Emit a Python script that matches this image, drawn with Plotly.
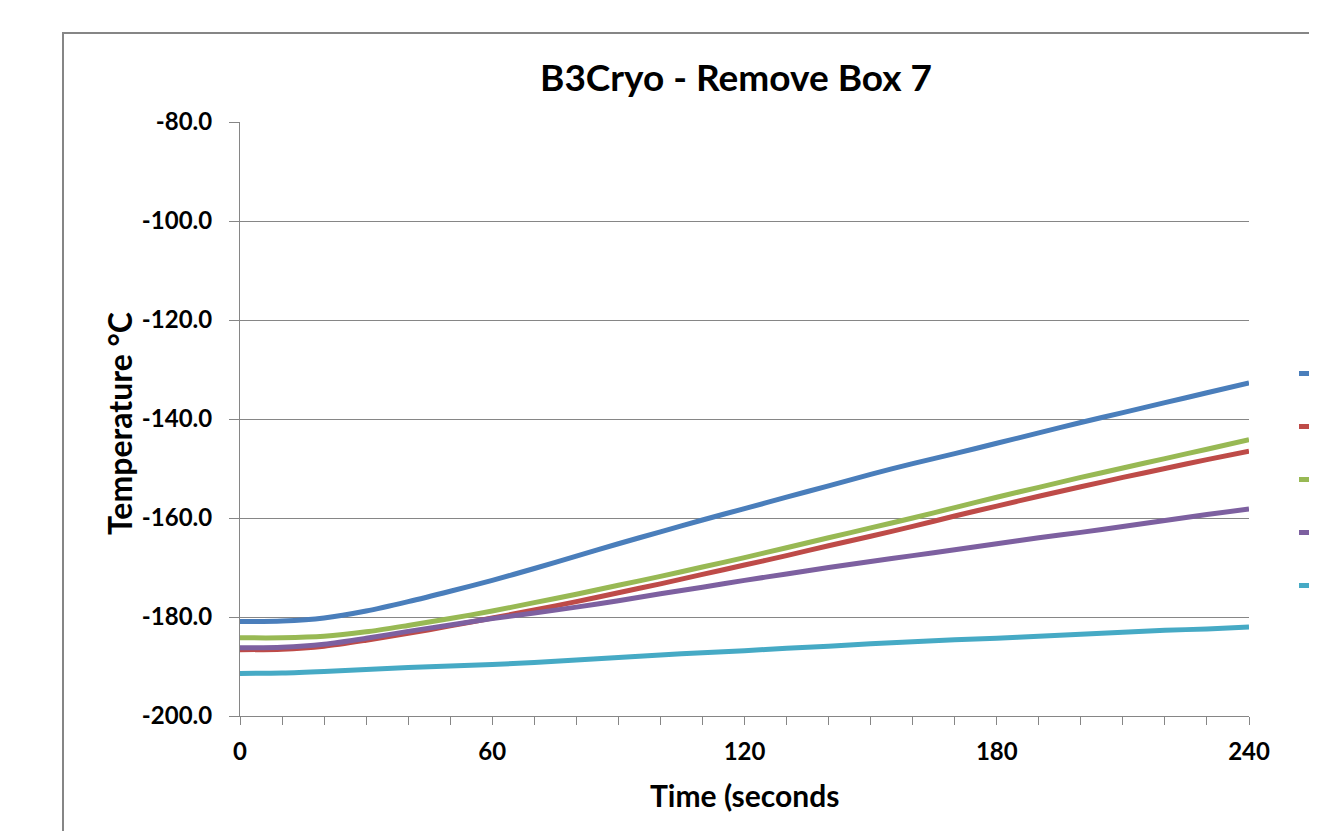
import plotly.graph_objects as go

# ---- data ----
time_s = [0, 10, 20, 30, 40, 50, 60, 70, 80, 90, 100, 110, 120,
          130, 140, 150, 160, 170, 180, 190, 200, 210, 220, 230, 240]

series_names = ["Sensor 1", "Sensor 2", "Sensor 3", "Sensor 4", "Sensor 5"]

sensor_1 = [-180.9, -180.8, -180.2, -178.8, -176.9, -174.8, -172.6, -170.2, -167.7,
            -165.2, -162.8, -160.4, -158.1, -155.8, -153.5, -151.2, -149.0, -147.0,
            -144.9, -142.8, -140.7, -138.7, -136.7, -134.7, -132.7]
sensor_2 = [-186.6, -186.5, -185.9, -184.7, -183.3, -181.8, -180.2, -178.6, -176.9,
            -175.1, -173.3, -171.4, -169.5, -167.6, -165.6, -163.7, -161.7, -159.6,
            -157.6, -155.6, -153.7, -151.8, -150.0, -148.2, -146.5]
sensor_3 = [-184.2, -184.2, -183.9, -183.0, -181.7, -180.3, -178.8, -177.1, -175.4,
            -173.6, -171.8, -169.9, -168.0, -166.0, -164.0, -162.0, -160.0, -157.9,
            -155.8, -153.8, -151.8, -149.9, -148.0, -146.1, -144.2]
sensor_4 = [-186.2, -186.1, -185.5, -184.3, -182.9, -181.6, -180.3, -179.2, -178.0,
            -176.7, -175.3, -174.0, -172.6, -171.3, -170.0, -168.8, -167.6, -166.4,
            -165.2, -164.0, -162.9, -161.7, -160.5, -159.3, -158.2]
sensor_5 = [-191.4, -191.3, -191.0, -190.6, -190.2, -189.9, -189.6, -189.2, -188.7,
            -188.2, -187.7, -187.2, -186.8, -186.3, -185.9, -185.4, -185.0, -184.6,
            -184.3, -183.9, -183.5, -183.1, -182.7, -182.4, -182.0]

x_tick_values = [0, 60, 120, 180, 240]
y_tick_values = [-200, -180, -160, -140, -120, -100, -80]

colors = ["#4A7EBB", "#BE4B48", "#98B954", "#7D60A0", "#46AAC5"]
all_series = [sensor_1, sensor_2, sensor_3, sensor_4, sensor_5]

FONT = "Lato"
GRID = "#868686"

fig = go.Figure()
for i, (name, ys) in enumerate(zip(series_names, all_series)):
    fig.add_trace(go.Scatter(
        x=time_s, y=ys, name=name, mode="lines",
        line=dict(color=colors[i], width=5, shape="spline", smoothing=0.8),
        legendgroup=f"g{i}",
    ))

# page body has an 8px margin, so the figure starts at (8, 8) on screen
OFF = 8
W, H = 1309, 823
ml, mr, mt, mb = 232, 68, 114, 115
pw, ph = W - ml - mr, H - mt - mb

def sx(px):  # screen x pixel -> paper x
    return (px - OFF - ml) / pw

def sy(py):  # screen y pixel -> paper y
    return (H - mb - (py - OFF)) / ph

fig.update_layout(
    width=W, height=H,
    margin=dict(l=ml, r=mr, t=mt, b=mb, autoexpand=False),
    paper_bgcolor="white", plot_bgcolor="white",
    font=dict(family=FONT, color="black"),
    title=dict(text="<b>B3Cryo - Remove Box 7</b>", x=sx(736), xref="paper",
               xanchor="center", y=1 - (78 - OFF) / H, yanchor="middle",
               font=dict(size=37, family=FONT, color="black")),
    showlegend=True,
    legend=dict(x=sx(1294), y=sy(354), xanchor="left", yanchor="top",
                font=dict(size=20, family=FONT), tracegroupgap=24,
                bgcolor="rgba(0,0,0,0)"),
    xaxis=dict(range=[0, 240], tickvals=x_tick_values,
               ticktext=[f"<b>{v}</b>" for v in x_tick_values],
               showgrid=False, zeroline=False, showline=True, linecolor=GRID, linewidth=1,
               ticks="outside", ticklen=8, tickcolor=GRID, tickwidth=1,
               minor=dict(dtick=10, ticks="outside", ticklen=8, tickcolor=GRID, tickwidth=1),
               tickfont=dict(size=24, family=FONT), ticklabelstandoff=6),
    yaxis=dict(range=[-200, -80], tickvals=y_tick_values,
               ticktext=[f"<b>{v:.1f}</b>" for v in y_tick_values],
               showgrid=True, gridcolor=GRID, gridwidth=1, zeroline=False,
               showline=True, linecolor=GRID, linewidth=1,
               ticks="outside", ticklen=10, tickcolor=GRID, tickwidth=1,
               tickfont=dict(size=24, family=FONT), ticklabelstandoff=12),
)

fig.add_annotation(text="<b>Time (seconds</b>", xref="paper", yref="paper",
                   x=sx(744), y=sy(795), showarrow=False,
                   xanchor="center", yanchor="middle", font=dict(size=30, family=FONT))
fig.add_annotation(text="<b>Temperature °C</b>", xref="paper", yref="paper",
                   x=sx(119), y=sy(424), showarrow=False, textangle=-90,
                   xanchor="center", yanchor="middle", font=dict(size=32, family=FONT))

# chart frame
fig.add_shape(type="rect", xref="paper", yref="paper", layer="below",
              x0=sx(63), x1=sx(1500), y0=sy(1000), y1=sy(33),
              line=dict(color=GRID, width=2), fillcolor="rgba(0,0,0,0)")

fig.write_html("out.html")
